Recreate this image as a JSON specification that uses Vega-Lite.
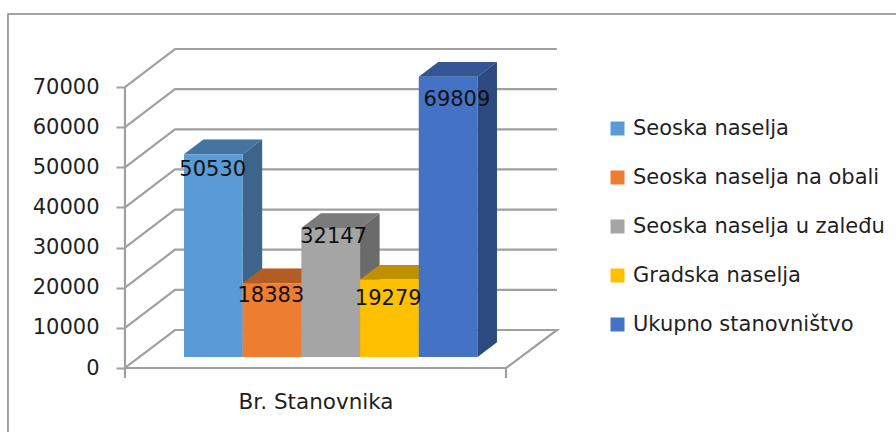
{
"$schema":"https://vega.github.io/schema/vega-lite/v6.json",
"width":896,"height":432,"padding":0,"autosize":{"type":"none"},
"background":"white",
"config":{"view":{"stroke":null},"font":"DejaVu Sans"},
"datasets":{
"bars":[
{"series":"Seoska naselja","value":50530,"start":0,"end":1,"labelX":0.49,"labelY":46600},
{"series":"Seoska naselja na obali","value":18383,"start":1,"end":2,"labelX":1.48,"labelY":15200},
{"series":"Seoska naselja u zaleđu","value":32147,"start":2,"end":3,"labelX":2.55,"labelY":29900},
{"series":"Gradska naselja","value":19279,"start":3,"end":4,"labelX":3.48,"labelY":14450},
{"series":"Ukupno stanovništvo","value":69809,"start":4,"end":5,"labelX":4.65,"labelY":64000}
],
"faces":[
{"series":"Seoska naselja","face":"side","x":1,"low":0,"high":50530},
{"series":"Seoska naselja","face":"side","x":1.332,"low":3660,"high":54190},
{"series":"Seoska naselja na obali","face":"side","x":2,"low":0,"high":18383},
{"series":"Seoska naselja na obali","face":"side","x":2.332,"low":3660,"high":22043},
{"series":"Seoska naselja u zaleđu","face":"side","x":3,"low":0,"high":32147},
{"series":"Seoska naselja u zaleđu","face":"side","x":3.332,"low":3660,"high":35807},
{"series":"Gradska naselja","face":"side","x":4,"low":0,"high":19279},
{"series":"Gradska naselja","face":"side","x":4.332,"low":3660,"high":22939},
{"series":"Ukupno stanovništvo","face":"side","x":5,"low":0,"high":69809},
{"series":"Ukupno stanovništvo","face":"side","x":5.332,"low":3660,"high":73469},
{"series":"Seoska naselja","face":"top","x":0,"low":50530,"high":50530},
{"series":"Seoska naselja","face":"top","x":0.332,"low":50530,"high":54190},
{"series":"Seoska naselja","face":"top","x":1,"low":50530,"high":54190},
{"series":"Seoska naselja","face":"top","x":1.332,"low":54190,"high":54190},
{"series":"Seoska naselja na obali","face":"top","x":1,"low":18383,"high":18383},
{"series":"Seoska naselja na obali","face":"top","x":1.332,"low":18383,"high":22043},
{"series":"Seoska naselja na obali","face":"top","x":2,"low":18383,"high":22043},
{"series":"Seoska naselja na obali","face":"top","x":2.332,"low":22043,"high":22043},
{"series":"Seoska naselja u zaleđu","face":"top","x":2,"low":32147,"high":32147},
{"series":"Seoska naselja u zaleđu","face":"top","x":2.332,"low":32147,"high":35807},
{"series":"Seoska naselja u zaleđu","face":"top","x":3,"low":32147,"high":35807},
{"series":"Seoska naselja u zaleđu","face":"top","x":3.332,"low":35807,"high":35807},
{"series":"Gradska naselja","face":"top","x":3,"low":19279,"high":19279},
{"series":"Gradska naselja","face":"top","x":3.332,"low":19279,"high":22939},
{"series":"Gradska naselja","face":"top","x":4,"low":19279,"high":22939},
{"series":"Gradska naselja","face":"top","x":4.332,"low":22939,"high":22939},
{"series":"Ukupno stanovništvo","face":"top","x":4,"low":69809,"high":69809},
{"series":"Ukupno stanovništvo","face":"top","x":4.332,"low":69809,"high":73469},
{"series":"Ukupno stanovništvo","face":"top","x":5,"low":69809,"high":73469},
{"series":"Ukupno stanovništvo","face":"top","x":5.332,"low":73469,"high":73469}
],
"walls":[
{"line":"floor","i":0,"x":-1.005,"v":-2740},{"line":"floor","i":1,"x":-0.153,"v":6726},{"line":"floor","i":2,"x":6.354,"v":6726},{"line":"floor","i":3,"x":5.486,"v":-2740},{"line":"floor","i":4,"x":-1.005,"v":-2740},
{"line":"g1","i":0,"x":-1.005,"v":7260},{"line":"g1","i":1,"x":-0.153,"v":16726},{"line":"g1","i":2,"x":6.354,"v":16726},
{"line":"g2","i":0,"x":-1.005,"v":17260},{"line":"g2","i":1,"x":-0.153,"v":26726},{"line":"g2","i":2,"x":6.354,"v":26726},
{"line":"g3","i":0,"x":-1.005,"v":27260},{"line":"g3","i":1,"x":-0.153,"v":36726},{"line":"g3","i":2,"x":6.354,"v":36726},
{"line":"g4","i":0,"x":-1.005,"v":37260},{"line":"g4","i":1,"x":-0.153,"v":46726},{"line":"g4","i":2,"x":6.354,"v":46726},
{"line":"g5","i":0,"x":-1.005,"v":47260},{"line":"g5","i":1,"x":-0.153,"v":56726},{"line":"g5","i":2,"x":6.354,"v":56726},
{"line":"g6","i":0,"x":-1.005,"v":57260},{"line":"g6","i":1,"x":-0.153,"v":66726},{"line":"g6","i":2,"x":6.354,"v":66726},
{"line":"g7","i":0,"x":-1.005,"v":67260},{"line":"g7","i":1,"x":-0.153,"v":76726},{"line":"g7","i":2,"x":6.354,"v":76726},
{"line":"axis","i":0,"x":-1.005,"v":-2740},{"line":"axis","i":1,"x":-1.005,"v":67260},
{"line":"tickL","i":0,"x":-1.005,"v":-2740},{"line":"tickL","i":1,"x":-1.005,"v":-5232},
{"line":"tickR","i":0,"x":5.486,"v":-2740},{"line":"tickR","i":1,"x":5.486,"v":-5232}
],
"frame":[{"i":0,"x":-2.998,"v":-18684},{"i":1,"x":-2.998,"v":85450},{"i":2,"x":12.13,"v":85450}],
"ticks":[{"level":0},{"level":10000},{"level":20000},{"level":30000},{"level":40000},{"level":50000},{"level":60000},{"level":70000}],
"category":[{"name":"Br. Stanovnika","x":2.25,"v":-11460}]
},
"resolve":{"scale":{"y":"independent"},"axis":{"y":"independent"}},
"layer":[
{"data":{"name":"frame"},"mark":{"type":"line","color":"#868686","strokeWidth":1.5},
 "encoding":{"order":{"field":"i"},
 "x":{"field":"x","type":"quantitative","axis":null,"scale":{"domain":[-3.134,12.13],"nice":false,"zero":false}},
 "y":{"field":"v","type":"quantitative","axis":null,"scale":{"domain":[-18684,88937],"nice":false,"zero":false}}}},
{"data":{"name":"walls"},"mark":{"type":"line","color":"#A0A0A0","strokeWidth":2.2},
 "encoding":{"order":{"field":"i"},"detail":{"field":"line"},
 "x":{"field":"x","type":"quantitative","axis":null},
 "y":{"field":"v","type":"quantitative","axis":null,"scale":{"domain":[-18684,88937],"nice":false,"zero":false}}}},
{"data":{"name":"ticks"},"mark":{"type":"point","opacity":0},
 "encoding":{"y":{"field":"level","type":"quantitative","title":null,
  "scale":{"domain":[-15944,91679],"nice":false,"zero":false},
  "axis":{"orient":"left","offset":-125,"values":[0,10000,20000,30000,40000,50000,60000,70000],"format":"d","domain":false,"grid":false,"tickSize":9,"tickWidth":2,"tickColor":"#A0A0A0","labelPadding":17,"labelFont":"DejaVu Sans","labelFontSize":21,"labelColor":"#1f1f1f"}}}},
{"data":{"name":"faces"},"transform":[{"filter":"datum.face==='side'"}],"mark":{"type":"area","interpolate":"linear"},
 "encoding":{"detail":{"field":"series"},"x":{"field":"x","type":"quantitative","axis":null},
 "y":{"field":"low","type":"quantitative","axis":null,"scale":{"domain":[-18684,88937],"nice":false,"zero":false}},"y2":{"field":"high"},
 "color":{"field":"series","type":"nominal",
  "legend":{"orient":"none","legendX":607,"legendY":118,"title":null,"symbolType":"square","symbolSize":196,"symbolStrokeWidth":0,"symbolOpacity":1,"labelFont":"DejaVu Sans","labelFontSize":21,"labelColor":"#1f1f1f","labelOffset":5,"rowPadding":27,"labelLimit":300}}}},
{"data":{"name":"faces"},"transform":[{"filter":"datum.face==='side'"}],"mark":{"type":"area","color":"#000000","opacity":0.35},
 "encoding":{"detail":{"field":"series"},"x":{"field":"x","type":"quantitative","axis":null},
 "y":{"field":"low","type":"quantitative","axis":null,"scale":{"domain":[-18684,88937],"nice":false,"zero":false}},"y2":{"field":"high"}}},
{"data":{"name":"faces"},"transform":[{"filter":"datum.face==='top'"}],"mark":{"type":"area"},
 "encoding":{"detail":{"field":"series"},"x":{"field":"x","type":"quantitative","axis":null},
 "y":{"field":"low","type":"quantitative","axis":null,"scale":{"domain":[-18684,88937],"nice":false,"zero":false}},"y2":{"field":"high"},
 "color":{"field":"series","type":"nominal",
  "legend":{"orient":"none","legendX":607,"legendY":118,"title":null,"symbolType":"square","symbolSize":196,"symbolStrokeWidth":0,"symbolOpacity":1,"labelFont":"DejaVu Sans","labelFontSize":21,"labelColor":"#1f1f1f","labelOffset":5,"rowPadding":27,"labelLimit":300}}}},
{"data":{"name":"faces"},"transform":[{"filter":"datum.face==='top'"}],"mark":{"type":"area","color":"#000000","opacity":0.25},
 "encoding":{"detail":{"field":"series"},"x":{"field":"x","type":"quantitative","axis":null},
 "y":{"field":"low","type":"quantitative","axis":null,"scale":{"domain":[-18684,88937],"nice":false,"zero":false}},"y2":{"field":"high"}}},
{"data":{"name":"bars"},"mark":{"type":"rect"},
 "encoding":{"x":{"field":"start","type":"quantitative","axis":null},"x2":{"field":"end"},
 "y":{"field":"value","type":"quantitative","axis":null,"scale":{"domain":[-18684,88937],"nice":false,"zero":false}},"y2":{"datum":0},
 "color":{"field":"series","type":"nominal",
  "scale":{"domain":["Seoska naselja","Seoska naselja na obali","Seoska naselja u zaleđu","Gradska naselja","Ukupno stanovništvo"],"range":["#5B9BD5","#ED7D31","#A5A5A5","#FFC000","#4472C4"]},
  "legend":{"orient":"none","legendX":607,"legendY":118,"title":null,"symbolType":"square","symbolSize":196,"symbolStrokeWidth":0,"symbolOpacity":1,"labelFont":"DejaVu Sans","labelFontSize":21,"labelColor":"#1f1f1f","labelOffset":5,"rowPadding":27,"labelLimit":300}}}},
{"data":{"name":"bars"},"mark":{"type":"text","fontSize":21,"font":"DejaVu Sans","color":"#111111"},
 "encoding":{"x":{"field":"labelX","type":"quantitative","axis":null},
 "y":{"field":"labelY","type":"quantitative","axis":null,"scale":{"domain":[-18684,88937],"nice":false,"zero":false}},
 "text":{"field":"value","type":"quantitative","format":"d"}}},
{"data":{"name":"category"},"mark":{"type":"text","fontSize":21.5,"font":"DejaVu Sans","color":"#1f1f1f"},
 "encoding":{"x":{"field":"x","type":"quantitative","axis":null},
 "y":{"field":"v","type":"quantitative","axis":null,"scale":{"domain":[-18684,88937],"nice":false,"zero":false}},
 "text":{"field":"name"}}}
]
}
